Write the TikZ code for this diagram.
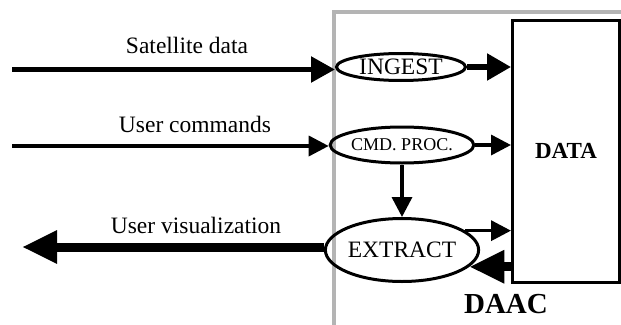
\documentclass[tikz,border=0pt]{standalone}
\usepackage{fontspec}
\setmainfont{Liberation Serif}
\usetikzlibrary{arrows.meta,shapes.geometric,calc}
\begin{document}
\begin{tikzpicture}[x=1pt,y=-1pt,
  proc/.style={draw,ellipse,line width=3pt,inner sep=0pt,font=\fontsize{23.5}{26}\selectfont},
  lbl/.style={anchor=base,font=\fontsize{23.5}{26}\selectfont},
  thickarr/.style={line width=5.3pt,-{Triangle[length=24pt,width=25pt]}},
  thinarr/.style={line width=3.5pt,-{Triangle[length=20pt,width=20pt]}},
  heavyarr/.style={line width=9pt,-{Triangle[length=35pt,width=31pt]}}]
\useasboundingbox (0,0) rectangle (621,324);
% DAAC frame
\draw[line width=3.2pt,color={rgb,255:red,180;green,180;blue,180}] (334,326) -- (334,12) -- (623,12);
% DATA store
\node[draw,line width=3pt,minimum width=107pt,minimum height=262pt,inner sep=0pt,
  font=\bfseries\fontsize{23}{26}\selectfont] (data) at (566,151) {DATA};
\node[font=\bfseries\fontsize{29}{32}\selectfont,anchor=base] (daac) at (506,313) {DAAC};
% processes
\node[proc,minimum width=129pt,minimum height=27pt] (ingest) at (401,67) {INGEST};
\node[proc,minimum width=132pt,minimum height=36pt,font=\fontsize{18}{20}\selectfont] (cmd) at (402,145) {CMD. PROC.};
\node[proc,minimum width=131pt,minimum height=63pt] (extract) at (402,250) {EXTRACT};
% external flows
\coordinate (sat) at (12,69.5);
\coordinate (ucmd) at (12,146);
\coordinate (uvis) at (22,247);
\draw[thickarr] (sat) -- (sat -| ingest.west);
\draw[thinarr] (ucmd) -- (ucmd -| cmd.west);
\draw[heavyarr] (uvis -| extract.west) -- (uvis);
\node[lbl] (l1) at (187,53) {Satellite data};
\node[lbl] (l2) at (195,132) {User commands};
\node[lbl] (l3) at (196,233) {User visualization};
% internal flows
\draw[line width=5.3pt,-{Triangle[length=24pt,width=26pt]}] (ingest.east) -- (ingest.east -| data.west);
\draw[thinarr] (cmd.east) -- (cmd.east -| data.west);
\draw[thinarr] (cmd.south) -- (extract.north);
\draw[thinarr] (extract.17) -- (extract.17 -| data.west);
\draw[heavyarr] (data.west |- extract.-14) -- (extract.-14);
\end{tikzpicture}
\end{document}
